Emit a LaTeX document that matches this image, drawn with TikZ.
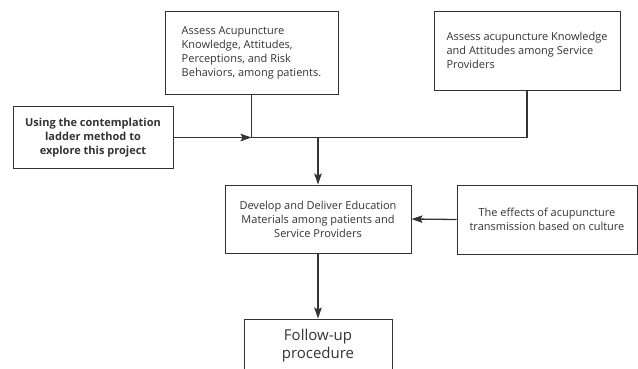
\documentclass[tikz,border=0pt]{standalone}
\usepackage{fontspec}
\setmainfont{Open Sans}
\usepackage{tikz}
\usetikzlibrary{arrows.meta,positioning}
\definecolor{boxline}{HTML}{333333}

\begin{document}
\begin{tikzpicture}[x=1pt, y=-1pt]
      \useasboundingbox (0,0) rectangle (638,368);

      \begin{scope}[every node/.style={rectangle, draw=boxline, line width=1pt, text=boxline,
                    inner sep=8pt, font=\fontsize{11}{14}\selectfont}]
          \node[minimum width=173, minimum height=83, align=left] (Pat) at (251.5,52.5)
              {Assess Acupuncture\\Knowledge, Attitudes,\\Perceptions, and Risk\\Behaviors, among patients.};
          \node[minimum width=186, minimum height=79, align=left] (Prov) at (527,50.5)
              {Assess acupuncture Knowledge\\and Attitudes among Service\\Providers};
          \node[minimum width=160, minimum height=62, align=center,
                font=\fontsize{11}{14}\selectfont\bfseries] (Ladder) at (93,137.5)
              {Using the contemplation\\ladder method to\\explore this project};
          \node[minimum width=186, minimum height=68, align=center] (Edu) at (318,219)
              {Develop and Deliver Education\\Materials among patients and\\Service Providers};
          \node[minimum width=180, minimum height=69, align=center] (Cult) at (547,219.5)
              {The effects of acupuncture\\transmission based on culture};
          \node[minimum width=148, minimum height=54, align=center,
                font=\fontsize{15}{18}\selectfont] (Follow) at (318,346)
              {Follow-up\\procedure};
      \end{scope}

      \coordinate (J) at (318,137.5);

      \begin{scope}[>={Stealth[length=11pt, width=7.5pt, inset=2pt]},
                    every path/.style={draw=boxline, line width=1.3pt}]
          \draw (Pat.south) |- (J);
          \draw (Prov.south) |- (J);
          \draw [->] (Ladder.east) -- (Ladder.east -| Pat.south);
          \draw [->] (J) -- (Edu.north);
          \draw [->] (Cult.west) -- (Edu.east);
          \draw [->] (Edu.south) -- (Follow.north);
      \end{scope}
\end{tikzpicture}
\end{document}
